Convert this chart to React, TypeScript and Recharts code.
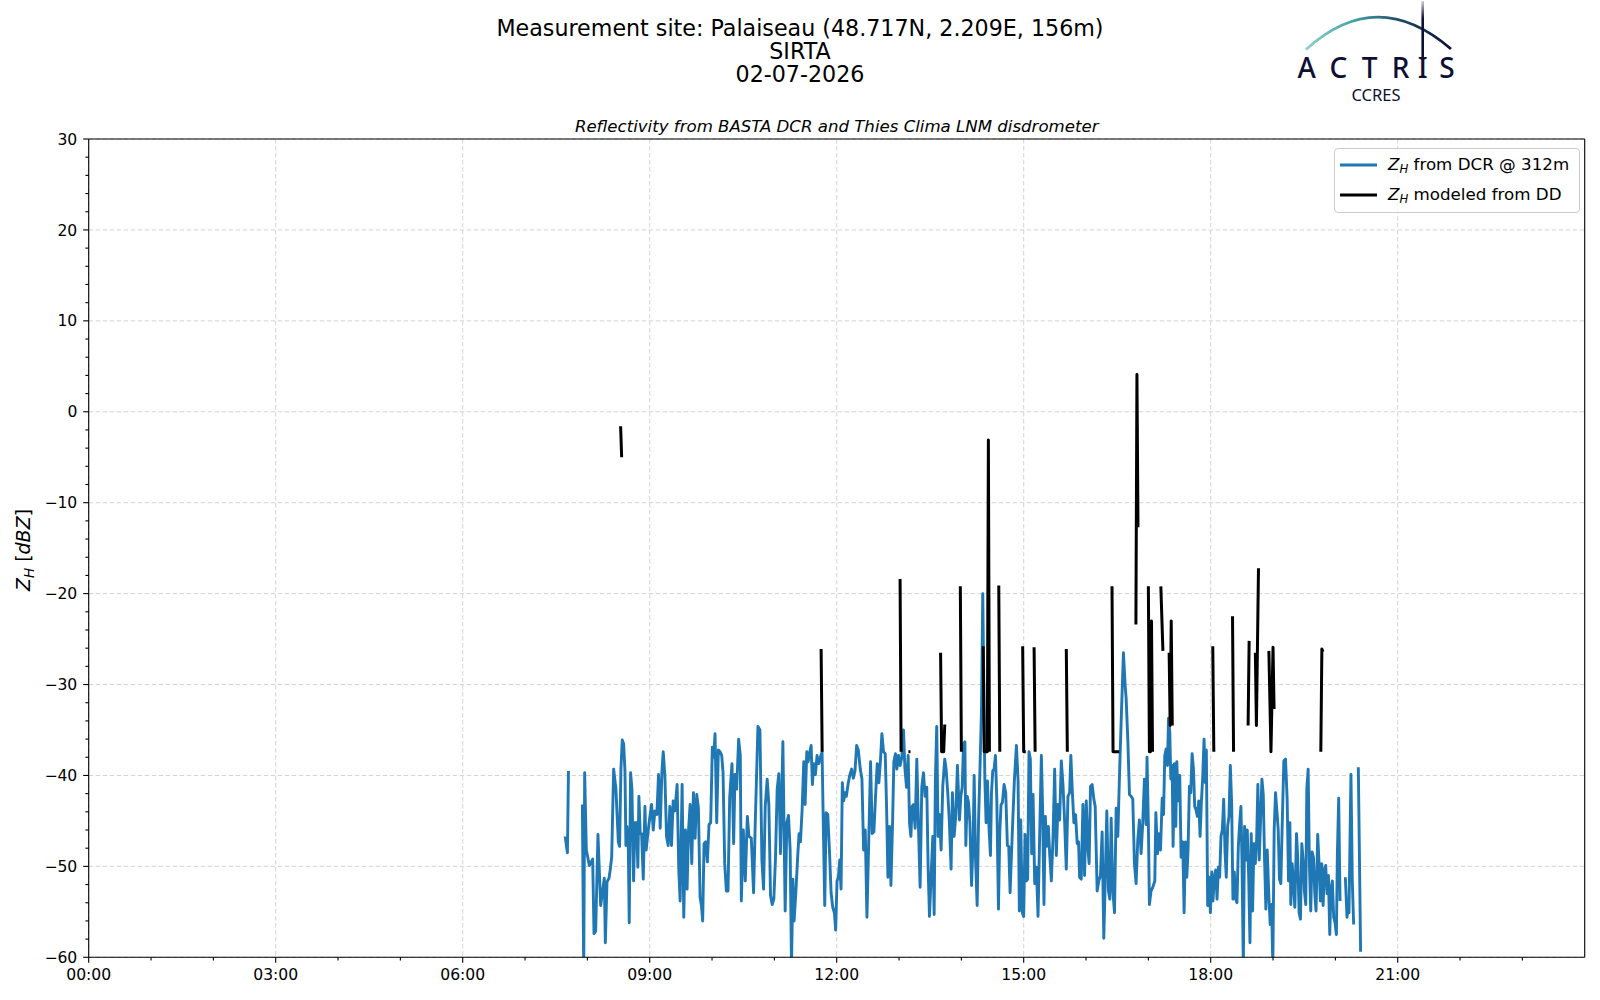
import React from 'react';
import { LineChart, Line, XAxis, YAxis, CartesianGrid, ReferenceLine, Legend } from 'recharts';

const FONT = '"DejaVu Sans", "Liberation Sans", sans-serif';

const titleLines = ['Measurement site: Palaiseau (48.717N, 2.209E, 156m)', 'SIRTA', '02-07-2026'];
const subtitleText = 'Reflectivity from BASTA DCR and Thies Clima LNM disdrometer';
const seriesNames = ['from DCR @ 312m', 'modeled from DD'];
const seriesColors = ['#1f77b4', '#000000'];

const xMajorTicks = [0, 180, 360, 540, 720, 900, 1080, 1260];
const xAllTicks = [0, 60, 120, 180, 240, 300, 360, 420, 480, 540, 600, 660, 720, 780, 840, 900, 960, 1020, 1080, 1140, 1200, 1260, 1320, 1380];
const yMajorTicks = [-60, -50, -40, -30, -20, -10, 0, 10, 20, 30];
const yAllTicks = [-60, -58, -56, -54, -52, -50, -48, -46, -44, -42, -40, -38, -36, -34, -32, -30, -28, -26, -24, -22, -20, -18, -16, -14, -12, -10, -8, -6, -4, -2, 0, 2, 4, 6, 8, 10, 12, 14, 16, 18, 20, 22, 24, 26, 28, 30];

// DCR reflectivity at 312 m (time in minutes since 00:00, dBZ)
const dcrMinutes = [
  458.6, 460.8, 461.8, 468, 475.2, 476.5, 477.4, 479.0, 481.9, 485.1, 486.4, 488.0, 490.2, 492.8, 496.3, 497.3, 498.9, 500.8, 502.1, 503.4,
  505.3, 507.5, 509.8, 511.0, 512.3, 513.6, 514.9, 516.2, 517.1, 518.1, 519.4, 520.3, 521.6, 522.9, 524.5, 525.8, 527.4, 528.6, 529.6, 530.9,
  532.2, 533.8, 535.4, 536.6, 538.2, 540.2, 541.8, 543.4, 545.0, 546.9, 548.5, 550.1, 551.7, 553.0, 554.6, 556.2, 557.8, 559.4, 561.0, 562.6,
  564.2, 566.4, 568.0, 569.3, 571.2, 572.8, 574.4, 576.0, 577.3, 578.9, 580.5, 582.1, 583.7, 585.3, 586.9, 588.5, 589.8, 591.0, 592.3, 593.9,
  595.5, 597.1, 598.7, 600.3, 601.6, 602.9, 604.5, 606.1, 607.7, 609.3, 610.6, 612.2, 613.8, 615.4, 617.0, 619.2, 620.8, 622.1, 623.7, 625.6,
  627.2, 628.2, 630.1, 632.0, 634.0, 635.5, 637.8, 640.0, 641.6, 644.2, 646.1, 648.0, 649.6, 651.2, 653.1, 654.7, 656.3, 657.9, 659.5, 661.1,
  662.7, 664.3, 665.9, 668.2, 670.4, 672.0, 673.6, 675.2, 676.5, 677.8, 679.0, 680.6, 682.6, 683.8, 685.1, 686.7, 688.3, 689.6, 691.2, 692.5,
  693.8, 695.4, 696.6, 697.9, 699.5, 701.1, 702.7, 704.3, 705.9, 707.2, 708.5, 709.8, 711.4, 713.0, 714.6, 716.2, 717.8, 719.0, 720.3, 721.6,
  722.9, 724.2, 725.4, 726.7, 728.0, 729.3, 730.9, 732.5, 734.4, 736.0, 737.6, 739.2, 740.8, 742.7, 744.3, 745.9, 747.5, 749.1, 751.0, 752.6,
  754.2, 755.8, 757.4, 759.0, 760.6, 762.2, 763.5, 765.1, 766.7, 768.0, 769.3, 770.9, 772.2, 773.8, 775.0, 776.6, 777.9, 779.5, 781.1, 782.7,
  784.3, 785.6, 787.2, 788.8, 790.1, 791.4, 792.6, 793.9, 795.5, 797.1, 798.7, 800.3, 801.9, 803.5, 805.1, 806.7, 808.0, 809.3, 810.9, 812.5,
  813.8, 815.0, 816.3, 817.6, 818.9, 820.5, 822.1, 824.0, 825.3, 826.9, 828.5, 830.1, 831.4, 833.0, 834.6, 836.2, 838.2, 839.5, 840.8, 842.1,
  843.4, 844.3, 845.6, 846.9, 848.2, 849.8, 851.4, 852.3, 853.6, 855.2, 856.5, 857.8, 859.4, 860.6, 862.6, 863.8, 865.1, 866.7, 868.0, 869.0,
  870.2, 871.5, 872.8, 874.1, 875.7, 877.0, 878.2, 879.5, 881.1, 882.7, 884.3, 885.6, 886.9, 888.2, 889.4, 891.0, 893.0, 894.6, 895.8, 897.1,
  898.7, 900.0, 901.3, 902.6, 903.8, 905.1, 906.4, 907.7, 909.0, 910.6, 912.2, 913.8, 915.4, 917.0, 918.2, 919.5, 920.8, 922.1, 923.7, 925.0,
  926.6, 928.2, 929.8, 931.4, 933.0, 934.6, 936.2, 937.8, 939.4, 941.0, 942.6, 944.2, 945.4, 946.7, 948.3, 949.9, 951.5, 952.8, 953.8, 955.4,
  957.0, 958.6, 960.2, 961.8, 963.0, 964.3, 965.9, 967.5, 968.8, 970.7, 972.3, 973.9, 975.5, 977.1, 978.4, 980.0, 981.6, 982.9, 984.2, 985.8,
  987.4, 989.0, 990.6, 992.2, 993.8, 996.0, 997.6, 998.6, 1000.2, 1001.8, 1003.4, 1005.0, 1006.6, 1008.2, 1009.8, 1011.4, 1013.0, 1014.6, 1016.2, 1017.8,
  1018.7, 1020.0, 1021.0, 1022.6, 1024.2, 1026.2, 1027.2, 1028.8, 1030.1, 1031.7, 1033.3, 1034.6, 1035.8, 1037.1, 1038.4, 1039.4, 1040.6, 1041.6, 1042.9, 1043.8,
  1045.1, 1046.4, 1047.4, 1048.6, 1050.2, 1051.5, 1053.1, 1054.4, 1055.7, 1057.0, 1058.2, 1059.5, 1060.8, 1062.1, 1063.4, 1064.6, 1065.9, 1067.2, 1068.5, 1069.8,
  1071.0, 1072.3, 1073.6, 1074.9, 1075.8, 1077.1, 1078.4, 1079.7, 1081.0, 1082.2, 1083.5, 1084.8, 1086.1, 1087.4, 1088.6, 1089.9, 1091.2, 1092.5, 1093.8, 1095.0,
  1096.3, 1097.6, 1098.9, 1100.2, 1101.4, 1102.7, 1104.0, 1105.3, 1106.6, 1107.8, 1109.1, 1110.1, 1111.4, 1112.6, 1113.9, 1115.2, 1116.5, 1117.8, 1119.0, 1120.3,
  1121.6, 1122.9, 1124.2, 1125.4, 1126.7, 1128.0, 1129.3, 1130.6, 1131.8, 1133.1, 1134.4, 1136.0, 1137.3, 1138.6, 1139.8, 1141.1, 1142.4, 1143.7, 1145.0, 1146.2,
  1147.5, 1148.8, 1150.4, 1152.0, 1153.6, 1154.9, 1156.2, 1157.1, 1158.4, 1159.7, 1161.0, 1162.6, 1163.8, 1165.1, 1166.4, 1167.7, 1169.0, 1170.2, 1171.5, 1172.5,
  1173.8, 1175.0, 1176.3, 1177.6, 1178.9, 1180.2, 1181.4, 1183.0, 1184.3, 1185.6, 1186.9, 1188.2, 1189.4, 1190.7, 1192.0, 1193.3, 1194.6, 1195.8, 1197.1, 1198.4,
  1199.7, 1201.0, 1201.9, 1203.2, 1204.5, 1207, 1209.6, 1211.2, 1212.2, 1213.1, 1215.0, 1216.3, 1217.6, 1220, 1222.1, 1224.3,
];
const dcrDbz = [
  -46.7, -48.5, -39.5, null, -43.2, -62, -39.7, -48.2, -49.9, -49.2, -57.4, -57.1, -46.5, -54.3, -51.3, -58.4, -51.7, -51.3, -50.3, -49.0,
  -39.3, -41.5, -47.3, -47.8, -39.3, -36.1, -36.5, -39.5, -47.7, -45.6, -47.8, -56.2, -39.7, -41.5, -51.6, -45.2, -45.2, -50.1, -42.3, -46.4,
  -46.4, -51.4, -43.4, -48.2, -46.4, -44.5, -43.2, -46.0, -43.9, -44.3, -39.9, -45.8, -39.7, -37.4, -40.0, -46.7, -47.7, -43.4, -47.7, -42.8,
  -43.9, -41.0, -50.4, -53.8, -41.0, -55.6, -46.0, -52.5, -46.2, -43.2, -49.7, -41.9, -46.9, -42.1, -43.6, -53.4, -54.3, -56.0, -47.5, -47.3,
  -49.5, -45.4, -45.2, -36.9, -38.0, -35.4, -45.2, -37.2, -37.4, -37.8, -39.7, -49.7, -52.7, -52.7, -42.4, -38.7, -47.5, -39.9, -41.5, -36.0,
  -37.8, -53.8, -46.0, -51.6, -44.5, -46.7, -46.9, -52.9, -45.2, -34.6, -35.0, -49.3, -52.5, -43.4, -40.4, -43.2, -53.2, -54.2, -53.6, -49.0,
  -41.5, -39.8, -48.6, -36.3, -54.9, -45.2, -44.4, -48.2, -61, -51.4, -56.0, -53.0, -48.6, -46.4, -47.3, -43.8, -38.5, -43.2, -37.4, -38.5,
  -37.6, -36.7, -41.0, -38.7, -39.9, -37.8, -38.7, -38.0, -37.4, -46.0, -54.3, -44.1, -44.3, -48.2, -52.9, -54.5, -55.1, -57.0, -51.6, -51.2,
  -49.3, -52.5, -40.8, -42.8, -41.9, -42.3, -41.0, -40.0, -39.3, -40.3, -39.5, -36.7, -37.2, -39.3, -40.4, -48.2, -46.0, -55.6, -46.4, -38.5,
  -46.4, -46.2, -42.3, -38.7, -40.8, -38.2, -35.4, -37.4, -37.6, -43.4, -51.2, -45.6, -52.1, -45.1, -38.5, -37.6, -39.3, -37.8, -38.9, -38.0,
  -35.0, -39.1, -41.3, -37.8, -45.2, -46.7, -43.4, -43.2, -45.8, -38.2, -45.6, -52.3, -41.3, -39.7, -42.3, -41.3, -50.1, -55.5, -51.0, -46.7,
  -55.3, -40.4, -34.6, -46.7, -44.3, -48.2, -41.2, -38.2, -39.3, -41.9, -45.2, -50.3, -41.9, -46.7, -44.5, -38.9, -44.9, -42.3, -41.3, -36.5,
  -36.3, -47.7, -42.3, -43.0, -45.2, -52.1, -46.9, -40.0, -49.0, -54.3, -45.2, -39.7, -32.6, -20.0, -40.4, -45.2, -40.6, -46.0, -48.8, -41.9,
  -39.5, -39.3, -37.8, -42.6, -54.7, -46.2, -43.2, -43.0, -41.0, -41.9, -47.7, -47.8, -52.9, -48.8, -45.2, -40.6, -36.7, -40.6, -54.9, -44.9,
  -55.1, -55.5, -46.5, -51.6, -51.4, -37.4, -38.2, -48.6, -42.1, -51.9, -50.1, -55.5, -46.4, -37.8, -43.6, -54.2, -44.5, -47.8, -45.6, -48.6,
  -51.6, -46.9, -39.3, -48.8, -43.2, -44.9, -38.4, -41.0, -45.1, -50.3, -42.3, -41.9, -37.8, -41.5, -45.2, -44.3, -47.5, -47.3, -51.2, -51.4,
  -43.2, -51.0, -42.8, -48.0, -49.7, -41.2, -41.0, -42.6, -43.4, -52.7, -51.6, -51.0, -46.2, -57.9, -51.9, -43.9, -52.7, -53.6, -44.7, -52.7,
  -55.1, -43.6, -46.7, -40.0, -34.1, -26.5, -30.0, -31.5, -36.0, -42.1, -42.3, -42.6, -49.7, -51.9, -47.1, -44.9, -48.6, -45.2, -40.4, -45.4,
  -38.0, -45.4, -54.2, -52.7, -52.3, -51.6, -44.1, -48.6, -46.4, -48.2, -42.5, -44.3, -37.8, -37.1, -38.9, -33.7, -35.2, -40.4, -38.9, -47.8,
  -38.7, -45.6, -38.5, -42.8, -40.0, -49.0, -47.3, -55.1, -47.3, -51.2, -48.2, -41.2, -41.9, -37.6, -39.3, -43.4, -43.8, -44.5, -42.8, -46.7,
  -43.0, -40.2, -36.0, -40.8, -37.2, -54.3, -51.2, -55.1, -50.6, -53.8, -51.2, -50.4, -53.6, -50.1, -51.2, -46.7, -46.0, -42.6, -48.4, -51.2,
  -45.6, -44.5, -38.9, -43.2, -53.6, -50.6, -53.6, -54.0, -47.8, -45.4, -43.4, -49.3, -61, -45.6, -49.3, -46.0, -50.8, -58.4, -46.4, -54.9,
  -47.5, -49.7, -47.1, -41.0, -49.3, -44.9, -40.4, -42.1, -49.0, -54.7, -48.2, -53.4, -56.4, -54.2, -61, -46.0, -41.9, -43.9, -46.0, -51.4,
  -51.9, -45.6, -38.4, -38.2, -42.6, -51.6, -45.2, -54.2, -49.7, -51.9, -54.5, -46.4, -49.1, -55.1, -55.8, -47.5, -49.3, -52.7, -54.2, -41.5,
  -39.3, -49.7, -54.9, -48.4, -49.0, -53.0, -54.9, -46.5, -49.7, -53.8, -49.7, -54.3, -50.4, -49.9, -53.0, -51.0, -57.5, -52.5, -51.6, -55.6,
  -56.2, -57.5, -48.8, -42.5, -53.8, null, -51.2, -55.6, -54.5, -55.1, -39.9, -51.6, -56.4, null, -39.1, -59.4,
];

// Reflectivity modeled from disdrometer drop size distribution
const ddMinutes = [
  512, 513, 514, 705, 706, 707, 781, 782, 785, 789, 791, 795, 820, 821, 823, 824, 830, 839, 840, 850,
  861, 862, 865, 866, 867, 870, 876, 877, 890, 899, 900, 902, 905, 910, 911, 920, 941, 942, 960, 985,
  986, 992, 1000, 1008, 1009, 1010, 1015, 1020, 1021, 1022, 1023, 1024, 1028, 1032, 1034, 1037, 1040, 1041, 1042, 1043,
  1060, 1082, 1083, 1090, 1101, 1102, 1110, 1116, 1117, 1120, 1123, 1124, 1126, 1130, 1136, 1138, 1140, 1141, 1160, 1186,
  1187, 1188,
];
const ddDbz = [
  -1.6, -5.0, null, -26.1, -37.4, null, -18.4, -37.4, null, -37.4, -37.4, null, -26.5, -37.4, -37.4, -34.4, null, -19.2, -37.4, null,
  -25.8, -37.4, -37.4, -3.1, -37.4, null, -19.1, -37.4, null, -25.8, -37.4, -37.4, null, -25.9, -37.4, null, -26.1, -37.4, null, -19.2,
  -37.4, -37.4, null, -23.4, 4.1, -12.7, null, -19.2, -37.4, -37.4, -23.0, -37.4, null, -19.2, -26.3, null, -26.5, -34.5, -23.0, -34.5,
  null, -25.8, -37.4, null, -22.5, -37.4, null, -34.5, -25.2, null, -26.5, -34.5, -17.2, null, -26.3, -37.4, -25.9, -32.7, null, -37.4,
  -26.1, -26.4,
];

const dcrData = dcrMinutes.map((t, i) => ({ t, v: dcrDbz[i] }));
const ddData = ddMinutes.map((t, i) => ({ t, v: ddDbz[i] }));

const pad2 = (n: number) => String(n).padStart(2, '0');
const fmtTime = (m: number) => `${pad2(Math.floor(m / 60))}:${pad2(m % 60)}`;
const fmtDbz = (v: number) => (v < 0 ? `\u2212${Math.abs(v)}` : `${v}`);

const XTick = (props: any) => {
  const { x, y, payload } = props;
  const major = xMajorTicks.includes(payload.value);
  return (
    <g>
      <line x1={x} x2={x} y1={y} y2={y + (major ? 5.5 : 3.3)} stroke="#000" strokeWidth={1.1} />
      {major && (
        <text x={x} y={y + 22.5} textAnchor="middle" fontSize={15.6} fontFamily={FONT} fill="#000">
          {fmtTime(payload.value)}
        </text>
      )}
    </g>
  );
};

const YTick = (props: any) => {
  const { x, y, payload } = props;
  const major = yMajorTicks.includes(payload.value);
  return (
    <g>
      <line x1={x - (major ? 5.5 : 3.3)} x2={x} y1={y} y2={y} stroke="#000" strokeWidth={1.1} />
      {major && (
        <text x={x - 11.4} y={y + 5.6} textAnchor="end" fontSize={15.6} fontFamily={FONT} fill="#000">
          {fmtDbz(payload.value)}
        </text>
      )}
    </g>
  );
};

const LegendBox = () => (
  <div
    style={{
      boxSizing: 'border-box',
      width: 246,
      height: 65,
      border: '1px solid #cccccc',
      borderRadius: 4,
      background: 'rgba(255,255,255,0.8)',
      fontFamily: FONT,
      fontSize: 16.7,
      color: '#000',
      paddingTop: 1,
    }}
  >
    {seriesNames.map((n, i) => (
      <div key={i} style={{ height: 30, display: 'flex', alignItems: 'center', paddingLeft: 5, whiteSpace: 'nowrap' }}>
        <svg width={37} height={4} style={{ marginRight: 11, flex: 'none' }}>
          <line x1={0} x2={37} y1={2} y2={2} stroke={seriesColors[i]} strokeWidth={2.8} />
        </svg>
        <span style={{ lineHeight: '19px' }}>
          <i>Z</i>
          <span style={{ fontStyle: 'italic', fontSize: '0.7em', position: 'relative', top: '0.3em' }}>H</span>
          {' ' + n}
        </span>
      </div>
    ))}
  </div>
);

export default function App() {
  return (
    <div style={{ position: 'absolute', left: 0, top: 0, width: 1600, height: 1000, background: '#fff', overflow: 'hidden' }}>
      <div style={{ position: 'absolute', left: 0, top: 0 }}>
        <LineChart width={1600} height={1000} margin={{ top: 139, right: 15.3, bottom: 8.7, left: 8.7 }}>
          <CartesianGrid
            verticalValues={xMajorTicks}
            horizontalValues={yMajorTicks}
            stroke="#d4d4d4"
            strokeDasharray="4.5 2.5"
            strokeWidth={1}
          />
          <XAxis
            dataKey="t"
            type="number"
            domain={[0, 1440]}
            ticks={xAllTicks}
            interval={0}
            tick={XTick}
            tickLine={false}
            tickSize={0}
            tickMargin={0}
            axisLine={{ stroke: '#000', strokeWidth: 1.1 }}
            height={34}
            allowDataOverflow
          />
          <YAxis
            type="number"
            domain={[-60, 30]}
            ticks={yAllTicks}
            interval={0}
            tick={YTick}
            tickLine={false}
            tickSize={0}
            tickMargin={0}
            axisLine={{ stroke: '#000', strokeWidth: 1.1 }}
            width={80}
            allowDataOverflow
          />
          <Line
            data={dcrData}
            dataKey="v"
            name={seriesNames[0]}
            type="linear"
            stroke={seriesColors[0]}
            strokeWidth={2.9}
            strokeLinejoin="round"
            dot={false}
            activeDot={false}
            connectNulls={false}
            isAnimationActive={false}
          />
          <Line
            data={ddData}
            dataKey="v"
            name={seriesNames[1]}
            type="linear"
            stroke={seriesColors[1]}
            strokeWidth={3}
            strokeLinejoin="round"
            dot={false}
            activeDot={false}
            connectNulls={false}
            isAnimationActive={false}
          />
          <ReferenceLine y={30} stroke="#000" strokeWidth={1.1} />
          <ReferenceLine x={1440} stroke="#000" strokeWidth={1.1} />
          <Legend
            layout="vertical"
            align="center"
            verticalAlign="middle"
            content={LegendBox}
            wrapperStyle={{ left: 1334, top: 148, width: 246, height: 65 }}
          />
        </LineChart>
      </div>
      <svg width={1600} height={1000} style={{ position: 'absolute', left: 0, top: 0, pointerEvents: 'none' }}>
        <defs>
          <linearGradient id="arcGrad" gradientUnits="userSpaceOnUse" x1={1306} y1={0} x2={1451} y2={0}>
            <stop offset="0" stopColor="#8fd0cc" />
            <stop offset="0.35" stopColor="#3f9ea3" />
            <stop offset="0.65" stopColor="#1d4b66" />
            <stop offset="1" stopColor="#0e1033" />
          </linearGradient>
          <linearGradient id="barGrad" gradientUnits="userSpaceOnUse" x1={0} y1={1} x2={0} y2={60}>
            <stop offset="0" stopColor="#0e1033" stopOpacity="0.2" />
            <stop offset="0.3" stopColor="#0e1033" />
            <stop offset="1" stopColor="#0e1033" />
          </linearGradient>
        </defs>
        {titleLines.map((s, i) => (
          <text key={i} x={800} y={35.8 + i * 23.3} textAnchor="middle" fontSize={22.2} fontFamily={FONT} fill="#000">
            {s}
          </text>
        ))}
        <text x={836.7} y={131.8} textAnchor="middle" fontSize={16.6} fontStyle="italic" fontFamily={FONT} fill="#000">
          {subtitleText}
        </text>
        <text transform="translate(30,550) rotate(-90)" textAnchor="middle" fontSize={19} fontFamily={FONT} fill="#000">
          <tspan fontStyle="italic">Z</tspan>
          <tspan fontStyle="italic" fontSize={13.5} dy={4}>H</tspan>
          <tspan dy={-4}> [</tspan>
          <tspan fontStyle="italic">dBZ</tspan>
          <tspan>]</tspan>
        </text>
        <path d="M1306,49.5 Q1377,-15 1451,49" fill="none" stroke="url(#arcGrad)" strokeWidth={2.8} />
        <line x1={1422.7} x2={1422.7} y1={1} y2={60} stroke="url(#barGrad)" strokeWidth={2.6} />
        <text y={77.5} fontSize={28} fontFamily='"Noto Sans", sans-serif' fontWeight={500} fill="#0e1033" textAnchor="middle">
          <tspan x={1306.7}>A</tspan>
          <tspan x={1338.3}>C</tspan>
          <tspan x={1369.7}>T</tspan>
          <tspan x={1400.5}>R</tspan>
          <tspan x={1422.7}>I</tspan>
          <tspan x={1447}>S</tspan>
        </text>
        <text x={1376} y={100.5} textAnchor="middle" fontSize={16.5} fontFamily='"Noto Sans", sans-serif' fill="#0e1033">
          CCRES
        </text>
      </svg>
    </div>
  );
}
